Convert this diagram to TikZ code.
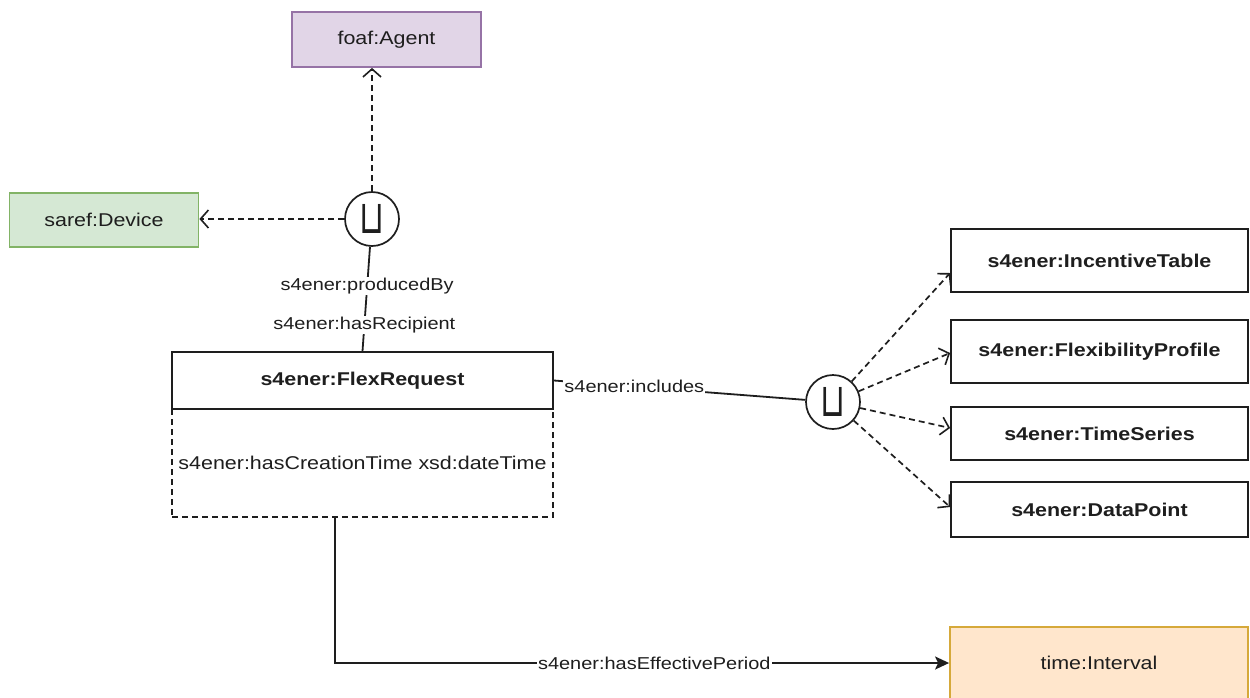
\documentclass[tikz,border=0pt]{standalone}
\usepackage{fontspec}
\setmainfont{Liberation Sans}[FakeStretch=1.16]
\newfontfamily\symfont{DejaVu Sans}
\usetikzlibrary{arrows.meta,calc}
\definecolor{agentfill}{HTML}{E1D5E7}
\definecolor{agentdraw}{HTML}{9673A6}
\definecolor{devfill}{HTML}{D5E8D4}
\definecolor{devdraw}{HTML}{82B366}
\definecolor{timefill}{HTML}{FFE6CC}
\definecolor{timedraw}{HTML}{D6A93A}
\definecolor{ink}{HTML}{1E1E1E}
\begin{document}
\begin{tikzpicture}[x=1pt,y=-1pt,
  every node/.style={text=ink},
  basebox/.style={rectangle, line width=1.8pt, inner sep=0pt, font=\fontsize{18.5}{22}\selectfont},
  classbox/.style={basebox, draw=ink, fill=white, font=\bfseries\fontsize{18.5}{22}\selectfont},
  unionnode/.style={circle, draw=ink, fill=white, line width=1.7pt, minimum size=54pt, inner sep=0pt, font=\symfont\fontsize{32}{32}\selectfont},
  edgelabel/.style={fill=white, inner sep=1pt, font=\fontsize{17.2}{20}\selectfont},
  dashline/.style={draw=ink, line width=1.7pt, dash pattern=on 6pt off 4pt},
  openarrow/.style={dashline, -{Straight Barb[length=8pt,width=18pt,line width=1.6pt]}},
  solidline/.style={draw=ink, line width=1.8pt},
]
\useasboundingbox (0,0) rectangle (1250,697);
\fill[white] (0,0) rectangle (1250,697);

% nodes
\node[basebox, draw=agentdraw, fill=agentfill, minimum width=189pt, minimum height=55pt] (agent) at (386.5,39.5) {foaf:Agent};
\node[basebox, draw=devdraw, fill=devfill, minimum width=189pt, minimum height=54pt] (device) at (104,220) {saref:Device};
\node[unionnode] (u1) at (372,219) {\scalebox{1}[1.45]{⊔}};

\node[basebox, draw=ink, dash pattern=on 6pt off 4pt, minimum width=381pt, minimum height=108pt] (attrs) at (362.5,463) {s4ener:hasCreationTime xsd:dateTime};
\node[classbox, minimum width=381pt, minimum height=57pt] (flex) at (362.5,380.5) {s4ener:FlexRequest};

\node[unionnode] (u2) at (833,402) {\scalebox{1}[1.45]{⊔}};

\node[classbox, minimum width=297pt, minimum height=63pt] (it) at (1099.5,260.5) {s4ener:IncentiveTable};
\node[classbox, minimum width=297pt, minimum height=63pt] (fp) at (1099.5,351.5) {s4ener:FlexibilityProfile};
\node[classbox, minimum width=297pt, minimum height=53pt] (ts) at (1099.5,433.5) {s4ener:TimeSeries};
\node[classbox, minimum width=297pt, minimum height=55pt] (dp) at (1099.5,509.5) {s4ener:DataPoint};

\node[basebox, draw=timedraw, fill=timefill, minimum width=298pt, minimum height=72pt] (ti) at (1099,663) {time:Interval};

% coordinates
\coordinate (itTip) at ([yshift=-12.5pt]it.west);
\coordinate (fpTip) at ([yshift=-1.5pt]fp.west);
\coordinate (tsTip) at ([yshift=5.5pt]ts.west);
\coordinate (dpTip) at ([yshift=2.5pt]dp.west);
\coordinate (periodStart) at ([xshift=-27.5pt]attrs.south);

% connectors
\draw[openarrow] (u1) -- (u1 |- agent.south);
\draw[openarrow] (u1) -- (u1 -| device.east);

\draw[solidline] (u1) -- (flex.north)
  node[edgelabel, pos=0.38] {s4ener:producedBy}
  node[edgelabel, pos=0.75] {s4ener:hasRecipient};

\draw[solidline] (flex.east) -- (u2)
  node[edgelabel, pos=0.32] {s4ener:includes};

\draw[openarrow] (u2) -- (itTip);
\draw[openarrow] (u2) -- (fpTip);
\draw[openarrow] (u2) -- (tsTip);
\draw[openarrow] (u2) -- (dpTip);

\draw[solidline, -{Stealth[length=14pt,width=13pt,inset=3pt]}] (periodStart) |- (ti.west)
  node[edgelabel, pos=0.76] {s4ener:hasEffectivePeriod};
\end{tikzpicture}
\end{document}
